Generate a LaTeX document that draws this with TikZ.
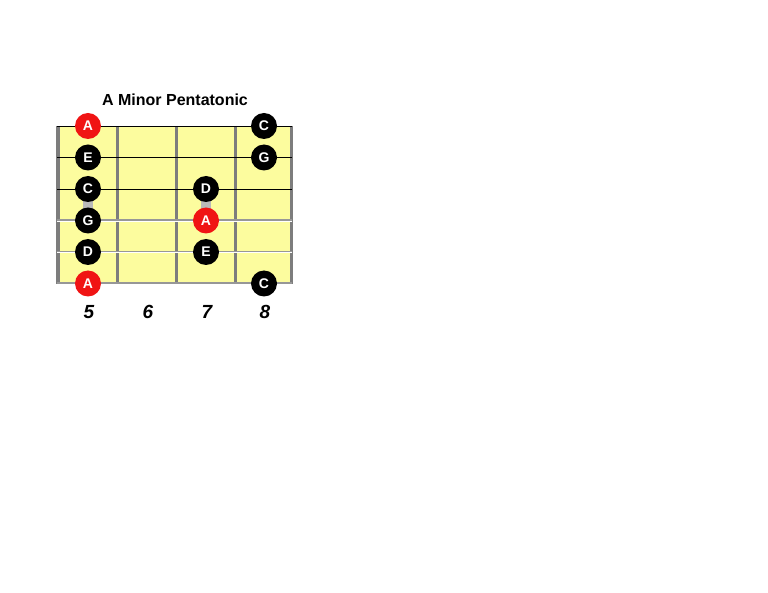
\documentclass[tikz,border=0pt]{standalone}
\usepackage{fontspec}
\setmainfont{Liberation Sans}
\definecolor{board}{RGB}{252,252,158}
\definecolor{fretgray}{RGB}{125,125,125}
\definecolor{rootred}{RGB}{240,20,20}
\tikzset{
  note/.style={circle, fill=black, inner sep=0pt, minimum size=26pt,
    text=white, font=\bfseries\fontsize{14}{14}\selectfont},
  root/.style={note, fill=rootred},
  fretnum/.style={font=\bfseries\itshape\fontsize{19}{19}\selectfont},
}
\begin{document}
\begin{tikzpicture}[x=1pt, y=-1pt]
  \useasboundingbox (0,0) rectangle (768,593);

  \node[font=\bfseries\fontsize{16}{16}\selectfont] (title) at (175,100) {A Minor Pentatonic};

  \fill[board] (57,126) rectangle (292,284);
  \foreach \x in {117,176,235,291}
    \draw[fretgray, line width=3pt] (\x,126) -- (\x,284);
  \draw[fretgray, line width=3.5pt] (58,126) -- (58,284);

  \foreach \y in {126,157.5,189}
    \draw[black, line width=0.8pt] (57,\y) -- (292,\y);
  \foreach \y in {220.5,252,283.5} {
    \draw[fretgray!80, line width=2.2pt] (57,\y) -- (292,\y);
    \draw[white, line width=0.6pt] (57,\y+0.4) -- (292,\y+0.4);
  }

  \fill[gray!55] (83,189) rectangle (93,220.5);
  \fill[gray!55] (201,189) rectangle (211,220.5);

  \foreach \s/\x/\n/\k in {1/88/A/root, 1/264/C/note, 2/88/E/note, 2/264/G/note,
      3/88/C/note, 3/206/D/note, 4/88/G/note, 4/206/A/root,
      5/88/D/note, 5/206/E/note, 6/88/A/root, 6/264/C/note}
    \node[\k] (n\s\n\x) at (\x,{126+31.5*(\s-1)}) {\n};

  \node[fretnum] (f5) at (89,312) {5};
  \node[fretnum] (f6) at (148,312) {6};
  \node[fretnum] (f7) at (207,312) {7};
  \node[fretnum] (f8) at (265,312) {8};
\end{tikzpicture}
\end{document}
